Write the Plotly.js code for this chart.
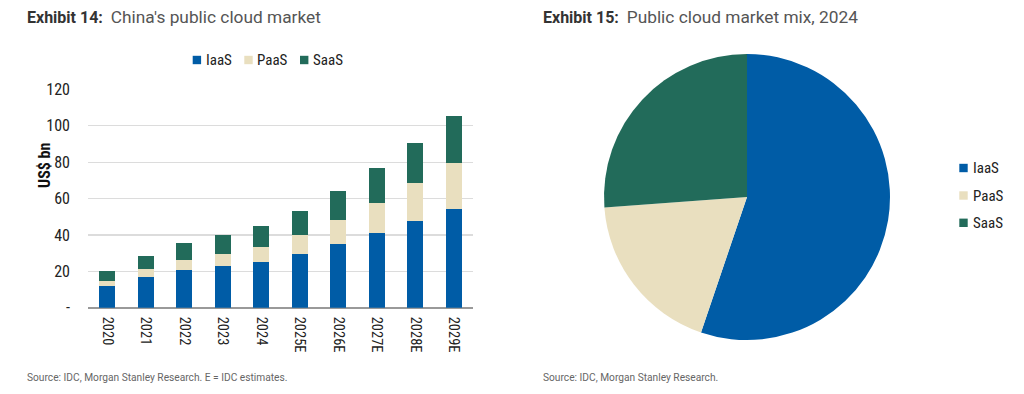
<!DOCTYPE html>
<html>
<head>
<meta charset="utf-8">
<script src="https://cdn.plot.ly/plotly-3.0.1.min.js"></script>
<style>html,body{margin:0;padding:0;background:#fff;}#chart{width:1024px;height:394px;}</style>
</head>
<body>
<div id="chart"></div>
<script>
const years = ["2020","2021","2022","2023","2024","2025E","2026E","2027E","2028E","2029E"];
const iaas = [11.9, 16.9, 20.5, 22.7, 24.9, 29.5, 35.0, 40.9, 47.5, 54.2];
const paas = [2.8, 4.4, 5.9, 7.0, 8.4, 10.4, 13.2, 16.8, 21.0, 25.5];
const saas = [5.5, 7.1, 9.0, 10.4, 11.8, 13.4, 15.7, 18.9, 22.2, 25.5];
const segments = ["IaaS", "PaaS", "SaaS"];
const mixYear = "2024";
const yTickVals = [0, 20, 40, 60, 80, 100, 120];
const yTickText = ["-", "20", "40", "60", "80", "100", "120"];

const colors = {IaaS: "#005CA6", PaaS: "#E9DFBF", SaaS: "#226B5A"};
const W = 1024, H = 394;
const px = v => v / W, py = v => 1 - v / H;
const FONT = "Roboto, 'Liberation Sans', sans-serif";
const NARROW = "'Liberation Sans Narrow', 'Roboto Condensed', 'DejaVu Sans Condensed', Roboto, sans-serif";

const mixIdx = years.indexOf(mixYear);
const mixVals = [iaas[mixIdx], paas[mixIdx], saas[mixIdx]];

const series = [iaas, paas, saas];
const traces = segments.map((s, i) => ({
  type: "bar", name: s, x: years, y: series[i],
  marker: {color: colors[s], line: {width: 0}},
  xaxis: "x", yaxis: "y", showlegend: false, hoverinfo: "x+y+name"
}));

traces.push({
  type: "pie", labels: segments, values: mixVals, sort: false,
  direction: "clockwise", rotation: 0,
  marker: {colors: segments.map(s => colors[s]), line: {width: 0}},
  textinfo: "none", domain: {x: [px(603.5), px(890.5)], y: [py(340), py(54)]},
  showlegend: false
});

// Legend layout (positions in px)
const legTopX = [192.7, 244.3, 300], legTopY = 60;
const legRightX = 959.3, legRightY = [168, 195.5, 222.8];
const SQ = 8.4;

const shapes = [];
const annotations = [];
segments.forEach((s, i) => {
  shapes.push({type: "rect", xref: "paper", yref: "paper", line: {width: 0}, fillcolor: colors[s],
    x0: px(legTopX[i]), x1: px(legTopX[i] + SQ), y0: py(legTopY + SQ / 2), y1: py(legTopY - SQ / 2)});
  annotations.push({text: s, x: px(legTopX[i] + SQ + 2.5), y: py(legTopY), xref: "paper", yref: "paper",
    xanchor: "left", yanchor: "middle", showarrow: false, font: {family: NARROW, size: 15, color: "#222"}});
  shapes.push({type: "rect", xref: "paper", yref: "paper", line: {width: 0}, fillcolor: colors[s],
    x0: px(legRightX), x1: px(legRightX + SQ), y0: py(legRightY[i] + SQ / 2), y1: py(legRightY[i] - SQ / 2)});
  annotations.push({text: s, x: px(legRightX + SQ + 3), y: py(legRightY[i]), xref: "paper", yref: "paper",
    xanchor: "left", yanchor: "middle", showarrow: false, font: {family: NARROW, size: 15, color: "#222"}});
});

annotations.push(
  {text: "<b>Exhibit 14:</b>  <span style='color:#555;font-size:17.3px'>China's public cloud market</span>",
   x: px(25), y: py(17), xref: "paper", yref: "paper", xanchor: "left", yanchor: "middle",
   showarrow: false, font: {family: FONT, size: 16, color: "#333"}},
  {text: "<b>Exhibit 15:</b>  <span style='color:#555;font-size:17.3px'>Public cloud market mix, 2024</span>",
   x: px(541), y: py(17), xref: "paper", yref: "paper", xanchor: "left", yanchor: "middle",
   showarrow: false, font: {family: FONT, size: 16, color: "#333"}},
  {text: "<b>US$ bn</b>", x: px(44), y: py(166), xref: "paper", yref: "paper",
   xanchor: "center", yanchor: "middle", textangle: -90, showarrow: false,
   font: {family: NARROW, size: 16, color: "#111"}},
  {text: "Source: IDC, Morgan Stanley Research. E = IDC estimates.",
   x: px(25), y: py(377), xref: "paper", yref: "paper", xanchor: "left", yanchor: "middle",
   showarrow: false, font: {family: FONT, size: 10.2, color: "#666"}},
  {text: "Source: IDC, Morgan Stanley Research.",
   x: px(541), y: py(377), xref: "paper", yref: "paper", xanchor: "left", yanchor: "middle",
   showarrow: false, font: {family: FONT, size: 10.2, color: "#666"}}
);

const layout = {
  width: W, height: H, margin: {l: 0, r: 0, t: 0, b: 0},
  paper_bgcolor: "#fff", plot_bgcolor: "#fff",
  font: {family: NARROW, color: "#222", size: 14},
  barmode: "stack", bargap: 0.58, showlegend: false,
  xaxis: {domain: [px(88), px(473)], range: [-0.5, 9.5], type: "category",
          tickangle: 90, tickfont: {family: NARROW, size: 14.5, color: "#222"}, showgrid: false,
          showline: false, ticks: "", ticklabelstandoff: 8, fixedrange: true, automargin: false},
  yaxis: {domain: [py(307.7), py(89.3)], range: [0, 120], tickvals: yTickVals, ticktext: yTickText,
          showgrid: true, gridcolor: "#DCDCDC", gridwidth: 1.2,
          zeroline: true, zerolinecolor: "#999", zerolinewidth: 2,
          tickfont: {family: NARROW, size: 16, color: "#222"}, ticks: "", ticklabelstandoff: 17, automargin: false},
  shapes: shapes,
  annotations: annotations
};

Plotly.newPlot("chart", traces, layout, {displayModeBar: false, staticPlot: true});
</script>
</body>
</html>
